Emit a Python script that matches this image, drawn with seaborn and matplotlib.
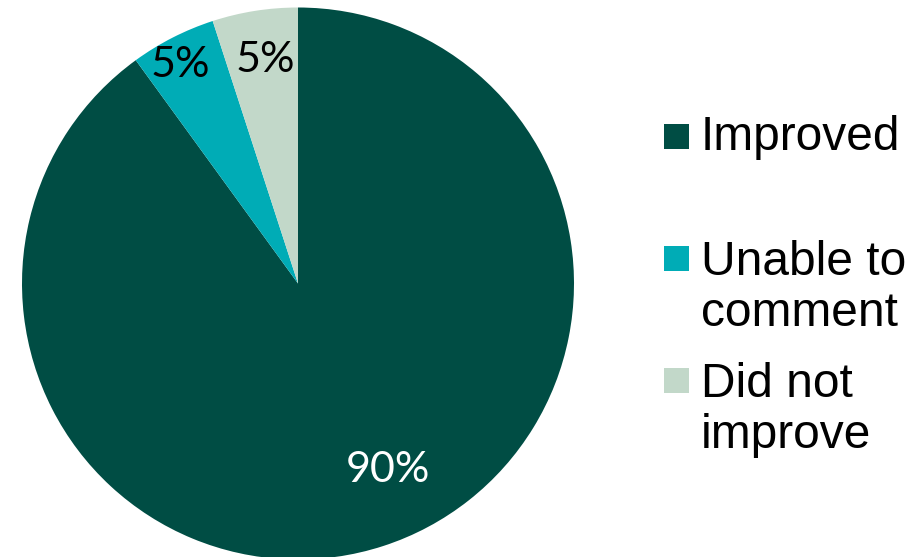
import numpy as np
import matplotlib
matplotlib.use("Agg")
import matplotlib.pyplot as plt
from matplotlib.patches import Rectangle
import seaborn as sns

categories = ["Improved", "Unable to\ncomment", "Did not\nimprove"]
shares = [90, 5, 5]
colors = ["#004D44", "#00ACB6", "#C2D8C9"]
label_colors = ["white", "black", "black"]

sns.set_theme(style="white")

W, H = 922, 557
fig = plt.figure(figsize=(W / 100, H / 100), dpi=100)
fig.patch.set_facecolor("white")
ax = fig.add_axes([0, 0, 1, 1])

cx, cy, R = 298, H - 283.5, 276
wedges, _, pct_texts = ax.pie(
    shares,
    colors=colors,
    startangle=90,
    counterclock=False,
    center=(cx, cy),
    radius=R,
    autopct="%d%%",
    wedgeprops=dict(linewidth=0),
    textprops=dict(fontsize=31, family="Lato"),
)

# label placement inside each wedge: (angle in degrees, fraction of radius)
label_place = [(-64.4, 0.75), (118.2, 0.90), (98.3, 0.82)]
for t, c, (a, d) in zip(pct_texts, label_colors, label_place):
    t.set_color(c)
    r = np.deg2rad(a)
    t.set_position((cx + d * R * np.cos(r), cy + d * R * np.sin(r)))

ax.set_xlim(0, W)
ax.set_ylim(0, H)
ax.set_aspect("equal")
ax.axis("off")

# legend: square swatches with labels to the right
swatch_y = [136, 258, 380]
first_baseline = [150, 275, 397]
line_pitch = 51
for cat, col, sy, by in zip(categories, colors, swatch_y, first_baseline):
    ax.add_patch(Rectangle((664, H - sy - 12.5), 25, 25, facecolor=col, edgecolor="none"))
    for i, line in enumerate(cat.split("\n")):
        ax.text(701, H - (by + i * line_pitch), line, fontsize=34.5,
                family="Liberation Sans", color="black", va="baseline", ha="left")

fig.savefig("out.png", dpi=100)
